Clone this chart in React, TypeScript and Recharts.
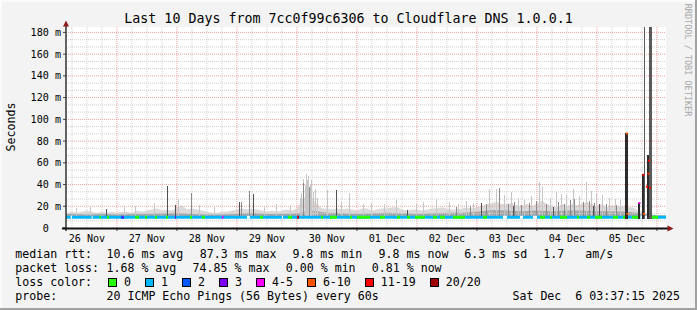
import React from 'react';
import {
  Area,
  ComposedChart,
  Line,
  ReferenceLine,
  Scatter,
  XAxis,
  YAxis
} from 'recharts';

const MONO = '"DejaVu Sans Mono", monospace';

// time in hours since 26 Nov 00:00; graph covers 26 Nov 03:37 .. 6 Dec 03:37
const T_START = 3.62;
const T_END = 243.62;

const dayLabels = ['26 Nov', '27 Nov', '28 Nov', '29 Nov', '30 Nov', '01 Dec', '02 Dec', '03 Dec', '04 Dec', '05 Dec'];
const yTicks = [0, 20, 40, 60, 80, 100, 120, 140, 160, 180];

// median rtt per day (ms), 26 Nov .. 6 Dec
const medianByDay = [9.9, 9.8, 9.9, 9.8, 9.9, 9.8, 9.9, 9.9, 9.8, 9.9, 9.8];

// upper edge of the smoke, every 2 h from h=2 (ms)
const smokeTop = [
  13, 14, 15, 14, 15, 16, 15, 14, 15, 14,
  15, 14, 15, 15, 14, 16, 15, 16, 17, 18,
  16, 17, 16, 19, 21, 17, 18, 17, 16, 15,
  14, 14, 15, 15, 16, 17, 18, 17, 18, 17,
  16, 15, 16, 15, 16, 17, 16, 18, 26, 30,
  28, 22, 18, 18, 17, 18, 17, 18, 17, 16,
  18, 18, 16, 17, 18, 18, 19, 19, 17, 16,
  17, 17, 16, 17, 18, 18, 19, 18, 17, 17,
  18, 19, 18, 19, 20, 22, 23, 24, 22, 22,
  23, 21, 20, 22, 20, 23, 25, 22, 20, 19,
  22, 20, 22, 21, 22, 24, 22, 20, 22, 19,
  21, 20, 20, 19, 19, 17, 15, 13, 12, 12,
  12, 12
];

// dense part of the smoke, every 6 h from h=0 (ms)
const smokeDense = [
  12.5, 13, 12.5, 13, 12.5, 13, 13, 13.5, 14, 13,
  12.5, 12.5, 13, 14, 13, 13, 13.5, 16, 14, 13.5,
  13, 13.5, 14, 13.5, 13, 13.5, 14, 14, 15, 16.5,
  16, 15.5, 16, 15.5, 16, 16, 15.5, 15.5, 15, 13.5,
  11.5, 11.5
];

// single ping spikes [hour, ms]
const paleSpikes = [
  [8.0, 18], [13.6, 19], [27.0, 19], [31.5, 20], [39.2, 23], [48.8, 27], [57.0, 21], [63.0, 19],
  [83.0, 20], [88.0, 22], [93.5, 21], [97.6, 28], [98.0, 32], [98.8, 45], [99.5, 40], [99.9, 50],
  [100.4, 44], [100.8, 48], [101.6, 40], [102.0, 44], [102.8, 33], [103.6, 36], [104.4, 28],
  [108.4, 35], [114.0, 24], [117.2, 32], [122.8, 22], [126.0, 23], [131.0, 22],
  [135.9, 26], [144.0, 22], [146.5, 24], [151.9, 27], [157.0, 24], [160.5, 22], [164.0, 25],
  [166.8, 23], [173.2, 36], [175.9, 36], [179.0, 30], [181.9, 33], [184.5, 28], [187.0, 26],
  [190.0, 29], [193.2, 42], [194.4, 38], [197.5, 28], [199.8, 33], [201.9, 31], [204.0, 30],
  [206.5, 36], [209.0, 29], [211.9, 42], [213.9, 34], [216.0, 31], [218.4, 30], [221.2, 28],
  [223.5, 27], [225.5, 26]
];
const greySpikes = [
  [53.9, 32], [73.9, 24], [76.9, 34], [98.6, 41], [101.2, 38], [160.0, 19], [165.5, 20],
  [172.0, 22], [177.2, 37], [180.5, 22], [183.0, 24], [186.0, 21], [189.0, 23], [192.0, 25],
  [196.0, 22], [200.5, 24], [203.0, 22], [205.5, 26], [207.2, 27], [210.5, 24], [213.2, 25],
  [215.0, 23], [220.0, 22], [224.0, 21]
];
const darkSpikes = [
  [19.9, 17.7], [44.1, 39], [47.6, 21], [73.2, 24], [78.8, 31], [111.9, 35], [140.4, 17],
  [169.9, 23], [182.8, 20], [198.8, 19], [214.6, 20], [217.2, 22]
];

// the loss burst on 5 Dec [hour, ms]
const darkBars = [
  [227.6, 87], [228.0, 87], [228.4, 87], [232.6, 23], [233.0, 23], [234.4, 50], [234.8, 50],
  [236.2, 67], [236.6, 67]
];
const tallBars = [[235.2, 185], [237.0, 185], [237.4, 185], [237.8, 185]];

// median colour by loss [from hour, to hour]
const greenSegs = [
  [17.0, 17.6], [20.0, 20.8], [31.2, 32.8], [35.2, 36.0], [39.2, 40.0], [43.6, 44.4], [53.2, 54.0],
  [58.0, 59.2], [81.2, 82.4], [92.4, 94.0], [105.6, 106.4], [109.2, 112.0], [117.2, 118.0],
  [120.0, 125.2], [129.2, 131.2], [136.0, 137.2], [140.0, 141.2], [143.2, 147.2], [150.4, 152.0],
  [153.2, 155.2], [158.4, 163.2], [170.4, 172.0], [193.2, 195.2], [197.2, 198.0], [201.2, 204.0],
  [208.0, 208.8], [212.0, 213.2], [215.2, 218.0], [222.4, 224.4], [226.4, 228.0], [230.0, 233.2],
  [238.0, 240.4]
];
const blueSegs = [[25.6, 26.4]];
const purpleSegs = [[26.4, 26.8], [47.2, 47.6]];
const magentaSegs = [[66.0, 66.6]];
const redSegs = [[96.0, 96.4]];
const darkRedSegs = [[96.4, 96.8]];
const unknownSegs = [
  [5.5, 6.0], [13.9, 14.3], [76.0, 77.2], [90.0, 90.4], [178.4, 180.0], [185.2, 186.4],
  [190.4, 192.0], [233.4, 238.0]
];

// loss colour markers on the burst [hour, ms, colour]
const lossDots: [number, number, string][] = [
  [228.0, 87, '#ff5500'], [228.2, 13, '#ff5500'], [233.0, 23, '#ff00ff'], [234.6, 49, '#ff0000'],
  [234.8, 13, '#ff5500'], [236.0, 38, '#ff0000'], [236.6, 50, '#ff3300'], [236.8, 62, '#ff0000'],
  [237.2, 37, '#ff0000']
];

const rttStats = ['10.6 ms avg', '87.3 ms max', '9.8 ms min', '9.8 ms now', '6.3 ms sd', '1.7', 'am/s'];
const lossStats = ['1.68 % avg', '74.85 % max', '0.00 % min', '0.81 % now'];
const lossColors = [
  ['0', '#26ff00'], ['1', '#00b8ff'], ['2', '#0059ff'], ['3', '#7e00ff'],
  ['4-5', '#ff00ff'], ['6-10', '#ff5500'], ['11-19', '#ff0000'], ['20/20', '#a10000']
];

// legend column positions
const rttX = [106.5, 199.8, 292.4, 378.6, 464.3, 543.3, 585.3];
const lossX = [106.5, 192.6, 285.8, 371.8];

const SMOKE_BASE = 11;
const BAR_BASE = 8.5;

const medianAt = (h: number) => medianByDay[Math.max(0, Math.min(medianByDay.length - 1, Math.floor(h / 24)))];

type Row = { h: number; top?: number; dense?: number; med?: number };
const byH = new Map<number, Row>();
const row = (h: number) => {
  let r = byH.get(h);
  if (!r) {
    r = { h };
    byH.set(h, r);
  }
  return r;
};
smokeTop.forEach((v, i) => { row(2 + 2 * i).top = v; });
smokeDense.forEach((v, i) => { row(6 * i).dense = v; });
const rows = [...byH.values()].sort((a, b) => a.h - b.h);
rows.forEach((r) => { r.med = medianAt(r.h); });

// horizontal runs of the median, broken by nulls
const segRows = (segs: number[][]) =>
  segs.flatMap(([a, b]) => [
    { h: a, v: medianAt(a) },
    { h: b, v: medianAt(a) },
    { h: b + 0.001, v: null }
  ]);

// vertical strokes from base up to the value, broken by nulls
const spikeRows = (list: number[][], base: number) =>
  list.flatMap(([h, v]) => [
    { h, v: base },
    { h, v },
    { h: h + 0.001, v: null }
  ]);

const lossLines: [number[][], string][] = [
  [greenSegs, '#26ff00'], [blueSegs, '#0059ff'], [purpleSegs, '#7e00ff'], [magentaSegs, '#ff00ff'],
  [redSegs, '#ff0000'], [darkRedSegs, '#a10000'], [unknownSegs, '#ffffff']
];

const spikeLines: [number[][], number, string][] = [
  [paleSpikes, SMOKE_BASE, '#c6c6c6'],
  [greySpikes, SMOKE_BASE, '#8a8a8a'],
  [darkSpikes, SMOKE_BASE, '#505050'],
  [tallBars, BAR_BASE, '#5a5a5a'],
  [darkBars, BAR_BASE, '#2c2c2c']
];

const dotRows = lossDots.map(([h, v, c]) => ({ h, v, c }));

const noonTicks = dayLabels.map((_, i) => 12 + 24 * i);
const midnightTicks = dayLabels.map((_, i) => 24 + 24 * i);
const minorH: number[] = [];
for (let k = 1; k <= 27; k++) if (k % 3 !== 0) minorH.push((k * 20) / 3);
const majorH = yTicks.slice(1);
const minorV: number[] = [];
for (let t = 6; t <= 240; t += 6) if (t % 24 !== 0) minorV.push(t);

const XTick = (p: any) => {
  const v = p.payload.value;
  if (v % 24 === 0) return <line x1={p.x} x2={p.x} y1={p.y} y2={p.y + 3} stroke="#444" />;
  return (
    <text x={p.x} y={p.y + 13.5} textAnchor="middle" fontSize={10.1} fontFamily={MONO} fill="#000">
      {dayLabels[(v - 12) / 24]}
    </text>
  );
};

const YTick = (p: any) => {
  const v = p.payload.value;
  return (
    <text x={v === 0 ? p.x - 12.2 : p.x} y={p.y + 3.5} textAnchor="end" fontSize={10.1} fontFamily={MONO} fill="#000">
      {v === 0 ? '0' : `${v} m`}
    </text>
  );
};

const Dot = (p: any) => <rect x={p.cx - 1} y={p.cy - 1} width={2} height={2} fill={p.payload.c} />;

const txt = (left: number, top: number, s: string) => (
  <div style={{ position: 'absolute', left, top, fontFamily: MONO, fontSize: 11.6, lineHeight: '14px', whiteSpace: 'pre', color: '#000' }}>
    {s}
  </div>
);

export default function App() {
  return (
    <div style={{ position: 'absolute', left: 0, top: 0, width: 697, height: 310, background: '#f3f3f3', overflow: 'hidden' }}>
      <div style={{ position: 'absolute', left: 0, top: 0, width: 697, height: 2, background: '#fbfbfb' }} />
      <div style={{ position: 'absolute', left: 0, top: 0, width: 2, height: 310, background: '#fbfbfb' }} />
      <div style={{ position: 'absolute', right: 0, top: 0, width: 2, height: 310, background: '#a2a2a2' }} />
      <div style={{ position: 'absolute', left: 0, bottom: 0, width: 697, height: 2, background: '#a2a2a2' }} />

      <div style={{ position: 'absolute', left: 66, top: 27, width: 600, height: 201, background: '#fff' }} />

      <div style={{ position: 'absolute', left: 0, top: 0 }}>
        <ComposedChart width={697} height={310} data={rows} margin={{ top: 27, right: 31, bottom: 62, left: 16 }}>
          {minorH.map((v) => (
            <ReferenceLine key={`mh${v}`} y={v} stroke="#cfcfcf" strokeDasharray="1 1" />
          ))}
          {minorV.map((v) => (
            <ReferenceLine key={`mv${v}`} x={v} stroke="#cfcfcf" strokeDasharray="1 1" />
          ))}
          {majorH.map((v) => (
            <ReferenceLine key={`Mh${v}`} y={v} stroke="#f2a0a0" strokeDasharray="1 1" />
          ))}
          {midnightTicks.map((v) => (
            <ReferenceLine key={`Mv${v}`} x={v} stroke="#f2a0a0" strokeDasharray="1 1" />
          ))}
          <XAxis
            dataKey="h"
            type="number"
            domain={[T_START, T_END]}
            allowDataOverflow
            ticks={[...noonTicks, ...midnightTicks]}
            interval={0}
            tick={<XTick />}
            tickLine={false}
            tickSize={0}
            tickMargin={0}
            axisLine={false}
            height={20}
          />
          <YAxis
            type="number"
            domain={[0, 185]}
            allowDataOverflow
            ticks={yTicks}
            interval={0}
            tick={<YTick />}
            tickLine={{ stroke: '#444' }}
            tickSize={3}
            tickMargin={2}
            axisLine={false}
            width={50}
          />
          <Area
            dataKey="top"
            baseValue={SMOKE_BASE}
            type="linear"
            connectNulls
            stroke="none"
            fill="#dadada"
            fillOpacity={1}
            isAnimationActive={false}
          />
          <Area
            dataKey="dense"
            baseValue={SMOKE_BASE}
            type="linear"
            connectNulls
            stroke="none"
            fill="#a6a6a6"
            fillOpacity={1}
            isAnimationActive={false}
          />
          {spikeLines.slice(0, 3).map(([list, base, color], i) => (
            <Line
              key={`spk${i}`}
              data={spikeRows(list, base)}
              dataKey="v"
              type="linear"
              stroke={color}
              strokeWidth={1}
              shapeRendering="crispEdges"
              dot={false}
              connectNulls={false}
              isAnimationActive={false}
            />
          ))}
          <Line dataKey="med" type="linear" stroke="#00b8ff" strokeWidth={3} dot={false} isAnimationActive={false} />
          {lossLines.map(([segs, color], i) => (
            <Line
              key={`loss${i}`}
              data={segRows(segs)}
              dataKey="v"
              type="linear"
              stroke={color}
              strokeWidth={3}
              dot={false}
              connectNulls={false}
              isAnimationActive={false}
            />
          ))}
          {spikeLines.slice(3).map(([list, base, color], i) => (
            <Line
              key={`bar${i}`}
              data={spikeRows(list, base)}
              dataKey="v"
              type="linear"
              stroke={color}
              strokeWidth={1}
              shapeRendering="crispEdges"
              dot={false}
              connectNulls={false}
              isAnimationActive={false}
            />
          ))}
          <Scatter data={dotRows} dataKey="v" shape={<Dot />} isAnimationActive={false} />
        </ComposedChart>
      </div>

      <svg width={697} height={310} style={{ position: 'absolute', left: 0, top: 0, pointerEvents: 'none' }}>
        <line x1={66} x2={66} y1={231} y2={24} stroke="#333" strokeWidth={1.5} />
        <line x1={62} x2={669} y1={228.5} y2={228.5} stroke="#111" strokeWidth={2} />
        <polygon points="63,26.5 69,26.5 66,20.5" fill="#8b1a1a" />
        <polygon points="667.5,225.5 667.5,231.5 673.5,228.5" fill="#8b1a1a" />
      </svg>

      <div style={{ position: 'absolute', left: 0, top: 11, width: 697, textAlign: 'center', fontFamily: MONO, fontSize: 13.3, lineHeight: '16px', color: '#000' }}>
        Last 10 Days from 7cc0f99c6306 to Cloudflare DNS 1.0.0.1
      </div>
      <div style={{ position: 'absolute', left: -39, top: 120, width: 100, height: 14, textAlign: 'center', fontFamily: MONO, fontSize: 11.6, lineHeight: '14px', transform: 'rotate(-90deg)' }}>
        Seconds
      </div>
      <div style={{ position: 'absolute', left: 623, top: 54, width: 130, height: 12, textAlign: 'center', fontFamily: MONO, fontSize: 8.5, lineHeight: '12px', color: '#a8a8a8', transform: 'rotate(90deg)' }}>
        RRDTOOL / TOBI OETIKER
      </div>

      {txt(15.3, 247, 'median rtt:')}
      {rttStats.map((s, i) => <React.Fragment key={`r${i}`}>{txt(rttX[i], 247, s)}</React.Fragment>)}
      {txt(15.3, 261, 'packet loss:')}
      {lossStats.map((s, i) => <React.Fragment key={`l${i}`}>{txt(lossX[i], 261, s)}</React.Fragment>)}
      {txt(15.3, 275, 'loss color:')}
      <div style={{ position: 'absolute', left: 108, top: 275, display: 'flex', alignItems: 'center', fontFamily: MONO, fontSize: 11.6, lineHeight: '14px', whiteSpace: 'pre' }}>
        {lossColors.map(([label, color]) => (
          <React.Fragment key={label}>
            <span style={{ display: 'inline-block', width: 7, height: 7, border: '1px solid #000', background: color, marginRight: 7 }} />
            <span style={{ marginRight: 14 }}>{label}</span>
          </React.Fragment>
        ))}
      </div>
      {txt(15.3, 289, 'probe:')}
      {txt(106.5, 289, '20 ICMP Echo Pings (56 Bytes) every 60s')}
      <div style={{ position: 'absolute', right: 17, top: 289, fontFamily: MONO, fontSize: 11.6, lineHeight: '14px', whiteSpace: 'pre' }}>
        Sat Dec  6 03:37:15 2025
      </div>
    </div>
  );
}
